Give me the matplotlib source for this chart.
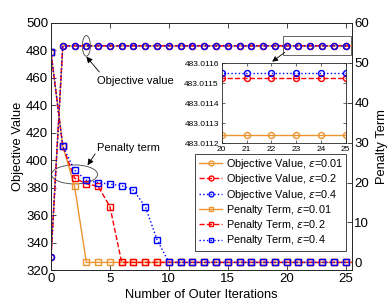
import matplotlib
matplotlib.use("Agg")
import matplotlib.pyplot as plt
from matplotlib.patches import Ellipse, Rectangle
from matplotlib.lines import Line2D
from matplotlib.ticker import FormatStrFormatter

plt.rcParams['font.family'] = ['Liberation Sans', 'DejaVu Sans']
plt.rcParams['mathtext.fontset'] = 'dejavusans'

# ---------------- data ----------------
iters = [0, 1, 2, 3, 4, 5, 6, 7, 8, 9, 10, 11, 12, 13, 14, 15, 16, 17, 18, 19, 20,
         21, 22, 23, 24, 25, 26]

obj_e001 = [329.5, 483.011242, 483.011242, 483.011242, 483.011242, 483.011242, 483.011242,
            483.011242, 483.011242, 483.011242, 483.011242, 483.011242, 483.011242,
            483.011242, 483.011242, 483.011242, 483.011242, 483.011242, 483.011242,
            483.011242, 483.011242, 483.011242, 483.011242, 483.011242, 483.011242,
            483.011242, 483.011242]
obj_e02 = [329.5, 483.011527, 483.011527, 483.011527, 483.011527, 483.011527, 483.011527,
           483.011527, 483.011527, 483.011527, 483.011527, 483.011527, 483.011527,
           483.011527, 483.011527, 483.011527, 483.011527, 483.011527, 483.011527,
           483.011527, 483.011527, 483.011527, 483.011527, 483.011527, 483.011527,
           483.011527, 483.011527]
obj_e04 = [329.5, 483.011553, 483.011553, 483.011553, 483.011553, 483.011553, 483.011553,
           483.011553, 483.011553, 483.011553, 483.011553, 483.011553, 483.011553,
           483.011553, 483.011553, 483.011553, 483.011553, 483.011553, 483.011553,
           483.011553, 483.011553, 483.011553, 483.011553, 483.011553, 483.011553,
           483.011553, 483.011553]

pen_e001 = [52.6, 29.1, 19.1, 0, 0, 0, 0, 0, 0, 0, 0, 0, 0, 0, 0, 0, 0, 0, 0, 0, 0,
            0, 0, 0, 0, 0, 0]
pen_e02 = [52.6, 29.1, 21.1, 19.7, 19.05, 14.0, 0, 0, 0, 0, 0, 0, 0, 0, 0, 0, 0, 0,
           0, 0, 0, 0, 0, 0, 0, 0, 0]
pen_e04 = [52.6, 29.1, 23.1, 20.6, 20.0, 19.6, 19.2, 18.05, 14.0, 5.7, 0, 0, 0, 0, 0,
           0, 0, 0, 0, 0, 0, 0, 0, 0, 0, 0, 0]

eps_labels = ['0.01', '0.2', '0.4']

x_ticks = [0, 5, 10, 15, 20, 25]
left_ticks = [320, 340, 360, 380, 400, 420, 440, 460, 480, 500]
right_ticks = [0, 10, 20, 30, 40, 50, 60]
inset_xticks = [20, 21, 22, 23, 24, 25]
inset_yticks = [483.0112, 483.0113, 483.0114, 483.0115, 483.0116]

# ---------------- styles ----------------
colors = ['#EB9430', '#FF0000', '#0000FF']
styles = ['-', '--', ':']
axcol = '0.15'
lw = 1.0
ms = 4.3

W, H = 390, 305
fig = plt.figure(figsize=(W / 100, H / 100), dpi=100)
ax = fig.add_axes([51 / W, 35 / H, 300.5 / W, 247.5 / H])
ax2 = ax.twinx()

objs = [obj_e001, obj_e02, obj_e04]
pens = [pen_e001, pen_e02, pen_e04]

for o, c, s in zip(objs, colors, styles):
    ax.plot(iters, o, color=c, ls=s, lw=lw, marker='o', ms=ms, mfc='none', mew=1.0)
for p, c, s in zip(pens, colors, styles):
    ax2.plot(iters, p, color=c, ls=s, lw=lw, marker='s', ms=ms - 0.3, mfc='none', mew=1.0)

ax.set_xlim(0, 25.5)
ax.set_ylim(320, 500)
ax2.set_ylim(-1.9, 60.1)
ax.set_xticks(x_ticks)
ax.set_yticks(left_ticks)
ax2.set_yticks(right_ticks)

for a in (ax, ax2):
    for sp in a.spines.values():
        sp.set_color(axcol)
        sp.set_linewidth(0.6)
ax.tick_params(direction='in', length=3.5, width=0.6, color=axcol, labelsize=9.5,
               top=True, right=False, pad=2)
ax2.tick_params(direction='in', length=3.5, width=0.6, color=axcol, labelsize=9.5, pad=2)

ax.set_xlabel('Number of Outer Iterations', fontsize=9.3, labelpad=3)
ax.set_ylabel('Objective Value', fontsize=9.3, labelpad=1.5)
ax2.set_ylabel('Penalty Term', fontsize=9.3, labelpad=5)

# annotations
ax.add_patch(Ellipse((3, 483), 0.68, 15, fill=False, ec='0.25', lw=0.6))
ax.text(3.9, 457.5, 'Objective value', fontsize=8, ha='left', va='center')
ax.annotate('', xy=(3.0, 475.2), xytext=(4.1, 464),
            arrowprops=dict(arrowstyle='-|>', color='k', lw=0.6, mutation_scale=9,
                            shrinkA=0, shrinkB=0))

ax.add_patch(Ellipse((2.0, 389.5), 3.9, 13.8, fill=False, ec='0.25', lw=0.6))
ax.text(3.9, 408.7, 'Penalty term', fontsize=8, ha='left', va='center')
ax.annotate('', xy=(3.1, 396.2), xytext=(3.75, 404.5),
            arrowprops=dict(arrowstyle='-|>', color='k', lw=0.6, mutation_scale=9,
                            shrinkA=0, shrinkB=0))

ax.add_patch(Rectangle((19.7, 476.5), 5.75, 13.4, fill=False, ec='0.3', lw=0.6,
                       clip_on=False))
ax.annotate('', xy=(18.77, 471.5), xytext=(19.84, 478.3),
            arrowprops=dict(arrowstyle='-|>', color='k', lw=0.6, mutation_scale=8,
                            shrinkA=0, shrinkB=0))

# legend
handles = []
labels = []
for c, s, e in zip(colors, styles, eps_labels):
    handles.append(Line2D([], [], color=c, ls=s, lw=lw, marker='o', ms=ms - 0.8,
                          mfc='none', mew=1.0))
    labels.append('Objective Value, $\\epsilon$=' + e)
for c, s, e in zip(colors, styles, eps_labels):
    handles.append(Line2D([], [], color=c, ls=s, lw=lw, marker='s', ms=ms - 1.1,
                          mfc='none', mew=1.0))
    labels.append('Penalty Term, $\\epsilon$=' + e)
leg = ax2.legend(handles, labels, loc='lower right', bbox_to_anchor=(0.982, 0.078),
                 fontsize=7.8, frameon=True, fancybox=False, framealpha=1,
                 edgecolor=axcol, handlelength=2.2, handletextpad=0.3,
                 labelspacing=0.12, borderpad=0.3, borderaxespad=0)
leg.get_frame().set_linewidth(0.6)

# inset
axi = fig.add_axes([221.7 / W, (H - 143.3) / H, 124 / W, 80 / H])
axi.set_facecolor('white')
for o, c, s in zip(objs, colors, styles):
    axi.plot(iters, o, color=c, ls=s, lw=lw, marker='o', ms=ms, mfc='none', mew=1.0)
axi.set_xlim(20, 25)
axi.set_ylim(483.0112, 483.0116)
axi.set_xticks(inset_xticks)
axi.set_yticks(inset_yticks)
axi.yaxis.set_major_formatter(FormatStrFormatter('%.4f'))
axi.tick_params(direction='in', length=2.5, width=0.5, color=axcol, labelsize=6,
                top=True, right=True, pad=2)
for sp in axi.spines.values():
    sp.set_color(axcol)
    sp.set_linewidth(0.6)

fig.savefig('out.png', dpi=100)
